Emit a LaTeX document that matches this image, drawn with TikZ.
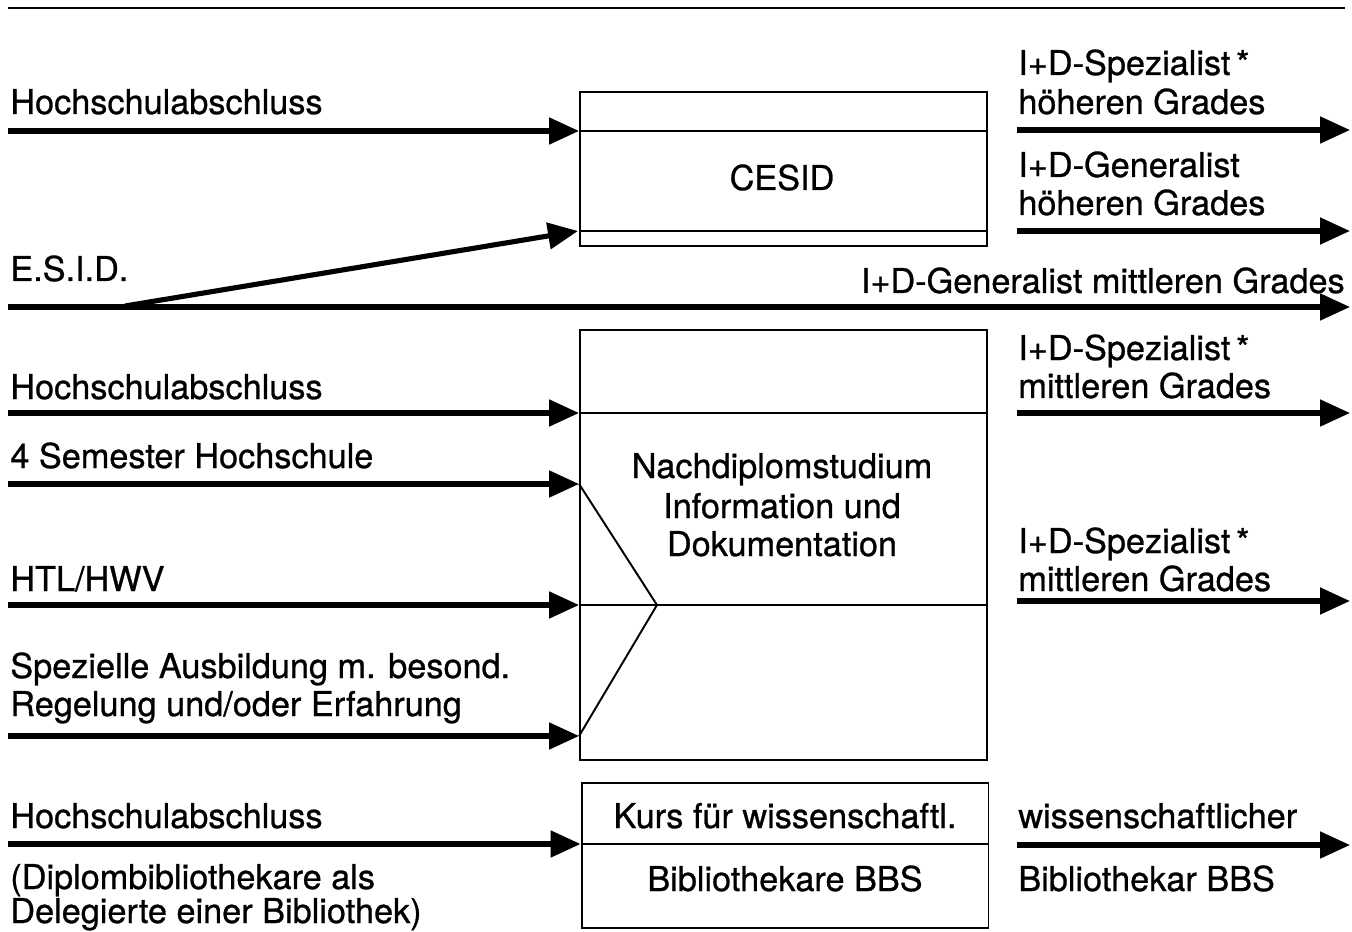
\documentclass[tikz,border=0pt]{standalone}
\usepackage{fontspec}
\setmainfont[FakeBold=0.8]{TeX Gyre Heros}
\usetikzlibrary{arrows.meta}

\begin{document}
\begin{tikzpicture}[x=0.02cm,y=-0.02cm,
  flow/.style={line width=2.9pt,-{Triangle[length=0.6cm,width=0.52cm]}},
  thin/.style={line width=1.1pt},
  box/.style={draw,line width=1.1pt,minimum width=8.14cm,inner sep=0pt},
  lbl/.style={font=\fontsize{19.5}{23}\selectfont,inner sep=0pt,anchor=base west},
  mid/.style={lbl,anchor=base}]
\useasboundingbox (0,0) rectangle (1352,932);

\node[box,minimum height=3.08cm] (cesid) at (783.5,169) {};
\node[box,minimum height=8.6cm] (nds) at (783.5,545) {};
\node[box,minimum height=2.9cm] (kurs) at (785,855.5) {};

\coordinate (ruleL) at (8,8);
\coordinate (ruleR) at (1345,8);
\draw[line width=1.7pt] (ruleL) -- (ruleR);

% inputs CESID
\coordinate (hsA) at (8,131);
\coordinate (esidL) at (8,307);
\coordinate (esidR) at (1350,307);
\coordinate (esidB) at (125,306);
\coordinate (esidE) at (578,231);
\draw[flow] (hsA) -- (hsA -| cesid.west);
\draw[thin] (hsA -| cesid.west) -- (hsA -| cesid.east);
\draw[flow] (esidB) -- (esidE);
\draw[thin] (esidE -| cesid.west) -- (esidE -| cesid.east);
\draw[flow] (esidL) -- (esidR);

% inputs Nachdiplomstudium
\coordinate (hsB) at (8,413);
\coordinate (sem) at (8,484);
\coordinate (htl) at (8,605);
\coordinate (spez) at (8,736);
\coordinate (merge) at (657,605);
\foreach \n in {hsB,sem,htl,spez}
  \draw[flow] (\n) -- (\n -| nds.west);
\draw[thin] (hsB -| nds.west) -- (hsB -| nds.east);
\draw[thin] (htl -| nds.west) -- (htl -| nds.east);
\draw[thin] (sem -| nds.west) -- (merge) -- (spez -| nds.west);

% input Kurs
\coordinate (hsC) at (8,844);
\draw[flow] (hsC) -- (hsC -| kurs.west);
\draw[thin] (hsC -| kurs.west) -- (hsC -| kurs.east);

% outputs
\foreach \n/\y in {oA/130,oB/231,oC/413,oD/601,oE/845}{
  \coordinate (\n s) at (1017,\y);
  \coordinate (\n e) at (1350,\y);
  \draw[flow] (\n s) -- (\n e);
}

\node[lbl] (tHsA) at (10,114) {Hochschulabschluss};
\node[lbl] (tEsid) at (10,281) {E.S.I.D.};
\node[lbl] (tHsB) at (10,399) {Hochschulabschluss};
\node[lbl] (tSem) at (10,468) {4 Semester Hochschule};
\node[lbl] (tHtl) at (10,591) {HTL/HWV};
\node[lbl] (tSpezA) at (10,678) {Spezielle Ausbildung m. besond.};
\node[lbl] (tSpezB) at (10,716) {Regelung und/oder Erfahrung};
\node[lbl] (tHsC) at (10,828) {Hochschulabschluss};
\node[lbl] (tDiplA) at (10,889) {(Diplombibliothekare als};
\node[lbl] (tDiplB) at (10,923) {Delegierte einer Bibliothek)};

\node[mid] (tCesid) at (782,190) {CESID};
\node[mid] (tNdsA) at (782,478) {Nachdiplomstudium};
\node[mid] (tNdsB) at (782,518) {Information und};
\node[mid] (tNdsC) at (782,556) {Dokumentation};
\node[mid] (tKursA) at (785,828) {Kurs für wissenschaftl.};
\node[mid] (tKursB) at (785,891) {Bibliothekare BBS};

\node[lbl] (tOutA1) at (1018,75) {I+D-Spezialist\,*};
\node[lbl] (tOutA2) at (1018,114) {höheren Grades};
\node[lbl] (tOutB1) at (1018,177) {I+D-Generalist};
\node[lbl] (tOutB2) at (1018,215) {höheren Grades};
\node[lbl,anchor=base east] (tOutM) at (1345,293) {I+D-Generalist mittleren Grades};
\node[lbl] (tOutC1) at (1018,360) {I+D-Spezialist\,*};
\node[lbl] (tOutC2) at (1018,398) {mittleren Grades};
\node[lbl] (tOutD1) at (1018,553) {I+D-Spezialist\,*};
\node[lbl] (tOutD2) at (1018,591) {mittleren Grades};
\node[lbl] (tOutE1) at (1018,828) {wissenschaftlicher};
\node[lbl] (tOutE2) at (1018,891) {Bibliothekar BBS};
\end{tikzpicture}
\end{document}
